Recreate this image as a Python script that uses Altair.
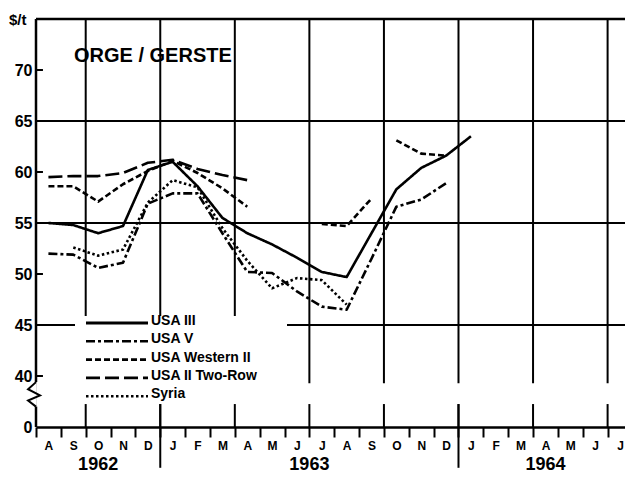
import altair as alt
import pandas as pd

# ---------------- data ----------------
# month axis: index 0 = Aug 1962 ... 23 = Jul 1964 (values plotted at mid-month)
MONTH_LABELS = ["A", "S", "O", "N", "D", "J", "F", "M", "A", "M", "J", "J",
                "A", "S", "O", "N", "D", "J", "F", "M", "A", "M", "J", "J"]
YEARS = ["1962", "1963", "1964"]
YEAR_START = [0, 5, 17]
YEAR_END = [5, 17, 24]
QUARTER_LINES = [2, 5, 8, 11, 14, 17, 20, 23]

SERIES = ["USA III", "USA V", "USA Western II", "USA II Two-Row", "Syria"]
DASHES = [[1, 0], [9, 3, 3, 3], [6, 3], [14, 5], [2.5, 2.5]]
WIDTHS = [3, 2.6, 2.6, 2.6, 2.6]

# monthly prices $/t, Aug 1962 .. Jan 1964
USA_III = [55.0, 54.8, 54.0, 54.7, 60.2, 61.0, 58.6, 55.5, 54.0, 52.9, 51.6, 50.2,
           49.7, 54.0, 58.3, 60.4, 61.6, 63.5]
USA_V = [52.0, 51.9, 50.6, 51.1, 56.9, 57.9, 57.9, 54.0, 50.2, 50.1, 48.3, 46.8,
         46.5, 51.5, 56.6, 57.3, 58.9, None]
USA_WESTERN_II_A = [58.6, 58.6, 57.1, 58.8, 60.1, 61.1, 59.9, 58.4, 56.6, None, None, 54.9,
                    54.7, 57.4, None, None, None, None]
USA_WESTERN_II_B = [None, None, None, None, None, None, None, None, None, None, None, None,
                    None, None, 63.1, 61.8, 61.6, None]
USA_II_TWO_ROW = [59.5, 59.6, 59.6, 59.9, 60.9, 61.2, 60.3, 59.7, 59.2, None, None, None,
                  None, None, None, None, None, None]
SYRIA = [None, 52.6, 51.8, 52.4, 57.0, 59.2, 58.5, 54.5, 51.3, 48.6, 49.6, 49.4,
         47.0, None, None, None, None, None]

Y_TICK_VALUES = [35, 40, 45, 50, 55, 60, 65, 70]   # 35 is drawn as the broken-axis "0"
H_GRID = [65, 55, 45]
INNER_TICKS = [70, 60, 50, 40]

# axis-break zigzag (x in months, y in $/t)
ZIG_X = [0, -0.32, 0.16, -0.32, 0]
ZIG_Y = [39.4, 38.7, 38.1, 37.6, 37.0]

X_END = 23.70
PLOT_W = 589
FONT = "Liberation Sans"

# ---------------- long table ----------------
series_lists = [
    ("USA III", [USA_III]),
    ("USA V", [USA_V]),
    ("USA Western II", [USA_WESTERN_II_A, USA_WESTERN_II_B]),
    ("USA II Two-Row", [USA_II_TWO_ROW]),
    ("Syria", [SYRIA]),
]
rows = []
for name, lists in series_lists:
    seg = 0
    for lst in lists:
        seg += 1
        prev = None
        for i, v in enumerate(lst):
            if v is None:
                if prev is not None:
                    seg += 1
                prev = None
                continue
            rows.append({"series": name, "seg": f"{name}-{seg}", "m": i + 0.5, "v": v})
            prev = v
df = pd.DataFrame(rows)

black = "#000000"
XS = alt.Scale(domain=[0, X_END], nice=False, zero=False)
YS = alt.Scale(domain=[35, 75], nice=False, zero=False)

month_expr = "[" + ",".join(f"'{m}'" for m in MONTH_LABELS) + "][datum.value]"
AXX = alt.Axis(
    values=list(range(len(MONTH_LABELS))), labelExpr=month_expr, title=None, grid=False,
    tickSize=10, tickWidth=2, tickColor=black, domainColor=black, domainWidth=2.5,
    labelFlush=False, labelOffset=PLOT_W / X_END / 2, labelPadding=3, labelOverlap=False,
    labelBound=False, labelFont=FONT, labelFontSize=12, labelFontWeight="bold", labelColor=black)
AXY = alt.Axis(
    values=Y_TICK_VALUES, labelExpr="datum.value == 35 ? '0' : datum.label", title=None,
    grid=False, ticks=False, domain=False, labelPadding=4,
    labelFont=FONT, labelFontSize=16, labelFontWeight="bold", labelColor=black)


def X(f):
    return alt.X(f, type="quantitative", scale=XS, axis=AXX)


def Y(f):
    return alt.Y(f, type="quantitative", scale=YS, axis=AXY)


# gridlines
hgrid = alt.Chart(pd.DataFrame({"v": H_GRID})).mark_rule(color=black, strokeWidth=2).encode(y=Y("v"))
topline = alt.Chart(pd.DataFrame({"v": [75]})).mark_rule(color=black, strokeWidth=2.5).encode(y=Y("v"))
vgrid = alt.Chart(pd.DataFrame({"m": QUARTER_LINES, "y0": 39.3, "y1": 75})).mark_rule(
    color=black, strokeWidth=2).encode(x=X("m"), y=Y("y0"), y2="y1")
inner = alt.Chart(pd.DataFrame({"v": INNER_TICKS, "x0": 0, "x1": 0.28})).mark_rule(
    color=black, strokeWidth=2).encode(x=X("x0"), x2="x1", y=Y("v"))
yline = alt.Chart(pd.DataFrame({"x0": [0, 0], "y0": [35, 39.4], "y1": [37.0, 75]})).mark_rule(
    color=black, strokeWidth=2.5).encode(x=X("x0"), y=Y("y0"), y2="y1")
zig = alt.Chart(pd.DataFrame({"i": range(len(ZIG_X)), "zx": ZIG_X, "zy": ZIG_Y})).mark_line(
    color=black, strokeWidth=2).encode(x=X("zx"), y=Y("zy"), order="i:O")
major = alt.Chart(pd.DataFrame({"m": QUARTER_LINES, "y0": 35, "y1": 37.25})).mark_rule(
    color=black, strokeWidth=2).encode(x=X("m"), y=Y("y0"), y2="y1")
yearsep = alt.Chart(pd.DataFrame({"m": [5, 17], "y0": 31.0, "y1": 37.25})).mark_rule(
    color=black, strokeWidth=2).encode(x=X("m"), y=Y("y0"), y2="y1")
ydf = pd.DataFrame({"year": YEARS,
                    "c": [(a + b) / 2 for a, b in zip(YEAR_START, YEAR_END)],
                    "y": 30.75})
yearlab = alt.Chart(ydf).mark_text(font=FONT, fontSize=18, fontWeight="bold", color=black,
                                   baseline="alphabetic", align="center").encode(
    x=X("c"), y=Y("y"), text="year:N")

# legend (manual, white box interrupting grid)
box = alt.Chart(pd.DataFrame({"a": [0]})).mark_rect(fill="white").encode(
    x=alt.value(39), x2=alt.value(251), y=alt.value(297), y2=alt.value(384))
legend_layers = []
for i, (name, dash, w) in enumerate(zip(SERIES, DASHES, WIDTHS)):
    yy = 304 + 18.3 * i
    legend_layers.append(
        alt.Chart(pd.DataFrame({"a": [0]})).mark_rule(color=black, strokeWidth=w, strokeDash=dash).encode(
            x=alt.value(50), x2=alt.value(112), y=alt.value(yy)))
    legend_layers.append(
        alt.Chart(pd.DataFrame({"t": [name]})).mark_text(
            font=FONT, fontSize=14, fontWeight="bold", color=black, align="left", baseline="middle").encode(
            x=alt.value(115), y=alt.value(yy - 2), text="t:N"))

# data lines
lines = alt.Chart(df).mark_line(color=black, strokeWidth=2.6, strokeJoin="round").encode(
    x=X("m"),
    y=Y("v"),
    detail="seg:N",
    strokeDash=alt.StrokeDash("series:N", scale=alt.Scale(domain=SERIES, range=DASHES), legend=None),
    strokeWidth=alt.StrokeWidth("series:N", scale=alt.Scale(domain=SERIES, range=WIDTHS), legend=None),
)

title = alt.Chart(pd.DataFrame({"t": ["ORGE / GERSTE"]})).mark_text(
    font=FONT, fontSize=20, fontWeight="bold", color=black, align="left", baseline="alphabetic").encode(
    x=alt.value(38), y=alt.value(43), text="t:N")
unit = alt.Chart(pd.DataFrame({"t": ["$/t"]})).mark_text(
    font=FONT, fontSize=15, fontWeight="bold", color=black, align="left", baseline="alphabetic").encode(
    x=alt.value(-27), y=alt.value(6), text="t:N")

chart = alt.layer(
    hgrid, vgrid, box, topline, inner, major, yearsep, yearlab, *legend_layers,
    lines, yline, zig, title, unit
).properties(
    width=PLOT_W, height=408,
    autosize=alt.AutoSizeParams(type="none"),
    padding={"left": 28, "top": 11, "right": 0, "bottom": 49},
).configure_view(stroke=None).configure(background="white")

chart.save("out.html", embed_options={"renderer": "svg", "actions": False})
